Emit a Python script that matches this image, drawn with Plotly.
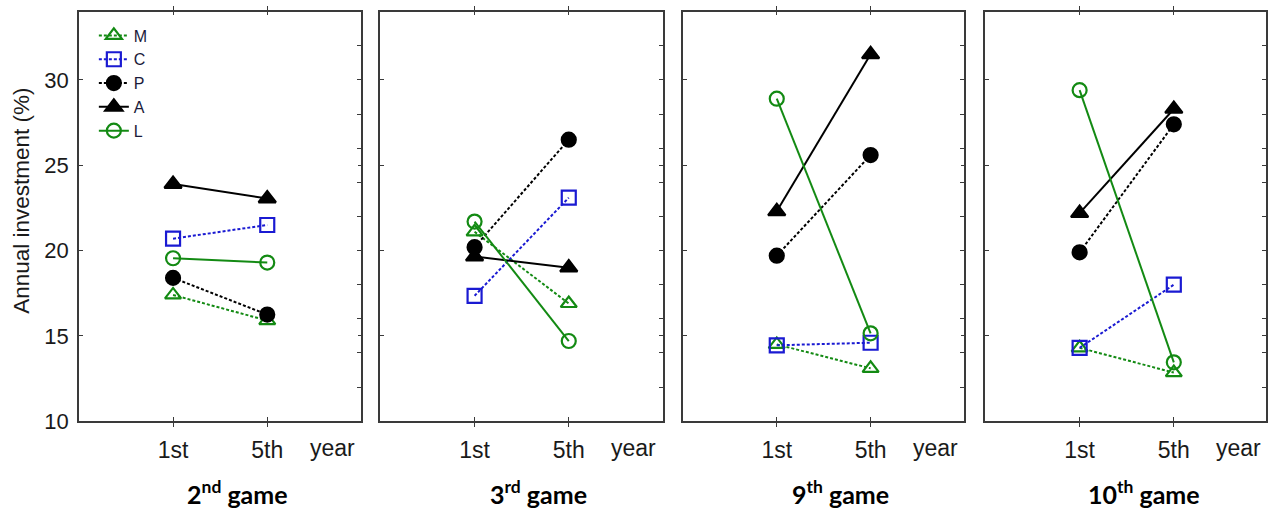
import plotly.graph_objects as go

# ---------------- data ----------------
years = ["1st", "5th"]
games = ["2<sup>nd</sup> game", "3<sup>rd</sup> game", "9<sup>th</sup> game", "10<sup>th</sup> game"]
series_names = ["M", "C", "P", "A", "L"]

M_values = [[17.4, 15.9], [21.1, 16.9], [14.5, 13.1], [14.3, 12.85]]
C_values = [[20.7, 21.5], [17.35, 23.1], [14.45, 14.6], [14.3, 18.0]]
P_values = [[18.4, 16.25], [20.2, 26.5], [19.7, 25.6], [19.9, 27.4]]
A_values = [[23.9, 23.05], [19.65, 19.0], [22.3, 31.5], [22.2, 28.3]]
L_values = [[19.55, 19.3], [21.7, 14.7], [28.9, 15.15], [29.4, 13.45]]

y_ticks = [10, 15, 20, 25, 30]
y_title = "Annual investment (%)"
x_extra_label = "year"

# ---------------- styles ----------------
GREEN = "#138a13"
BLUE = "#1a1ad2"
BLACK = "#000000"
styles = {
    "M": dict(color=GREEN, dash="3px,2px", symbol="triangle-up-open", size=14),
    "C": dict(color=BLUE, dash="3px,2px", symbol="square-open", size=14),
    "P": dict(color=BLACK, dash="3px,2px", symbol="circle", size=14),
    "A": dict(color=BLACK, dash="solid", symbol="triangle-up", size=15),
    "L": dict(color=GREEN, dash="solid", symbol="circle-open", size=14),
}
values = {"M": M_values, "C": C_values, "P": P_values, "A": A_values, "L": L_values}

W, H = 1268, 521
panels_px = [(79, 362), (381, 664), (684, 966), (987, 1270)]
top_px, bottom_px = 12, 432
FONT = "Liberation Sans, Arial, sans-serif"
TITLE_FONT = "Lato, Open Sans, sans-serif"
AXCOL = "#3a3a3a"
TXT = "#1a1a1a"

fig = go.Figure()

for i, game in enumerate(games):
    xa = "x" if i == 0 else f"x{i+1}"
    ya = "y" if i == 0 else f"y{i+1}"
    for name in series_names:
        st = styles[name]
        fig.add_trace(go.Scatter(
            x=years, y=values[name][i], xaxis=xa, yaxis=ya,
            name=name, legendgroup=name, showlegend=(i == 0),
            mode="lines+markers",
            line=dict(color=st["color"], width=2, dash=st["dash"]),
            marker=dict(symbol=st["symbol"], size=st["size"], color=st["color"],
                        line=dict(color=st["color"], width=2.2)),
        ))
    # empty trace to host the right-hand minor tick axis
    fig.add_trace(go.Scatter(x=[], y=[], xaxis=xa, yaxis=f"y{i+5}",
                             showlegend=False, hoverinfo="skip"))

layout = dict(
    width=W, height=H, autosize=False,
    margin=dict(l=0, r=0, t=0, b=0),
    paper_bgcolor="white", plot_bgcolor="white",
    showlegend=True,
    legend=dict(x=94 / W, y=1 - 19 / H, xanchor="left", yanchor="top",
                bgcolor="rgba(0,0,0,0)", font=dict(family=FONT, size=16, color="#1a1a3a"),
                tracegroupgap=0, itemwidth=30),
    annotations=[],
)

ydom = [1 - bottom_px / H, 1 - top_px / H]
for i, (x0, x1) in enumerate(panels_px):
    sx = "" if i == 0 else str(i + 1)
    right = min(x1, W)
    span = 3.0 * (right - x0) / (x1 - x0)
    layout[f"xaxis{sx}"] = dict(
        domain=[x0 / W, right / W], anchor=f"y{sx}", type="category",
        range=[-1, -1 + span], showline=True, linecolor=AXCOL, linewidth=1.5,
        mirror="allticks", ticks="inside", ticklen=4, tickcolor=AXCOL,
        showgrid=False, zeroline=False, ticklabelstandoff=7,
        tickfont=dict(family=FONT, size=23, color=TXT),
        fixedrange=True,
    )
    layout[f"yaxis{sx}"] = dict(
        domain=ydom, anchor=f"x{sx}", range=[10, 34],
        tickvals=y_ticks, showticklabels=(i == 0),
        showline=True, linecolor=AXCOL, linewidth=1.5,
        mirror="allticks", ticks="inside", ticklen=4, tickcolor=AXCOL,
        showgrid=False, zeroline=False, ticklabelstandoff=4,
        tickfont=dict(family=FONT, size=22, color=TXT),
        fixedrange=True,
    )
    layout[f"yaxis{i+5}"] = dict(
        overlaying=f"y{sx}", anchor=f"x{sx}", side="right", range=[10, 34],
        tickmode="linear", tick0=10, dtick=2, ticks="inside", ticklen=4,
        tickcolor=AXCOL, showticklabels=False, showline=False,
        showgrid=False, zeroline=False, fixedrange=True,
    )
    layout["annotations"].append(dict(
        text=x_extra_label, xref=f"x{sx}", yref="paper", x=1.69, y=1 - 459 / H,
        showarrow=False, xanchor="center", yanchor="middle",
        font=dict(family=FONT, size=23, color=TXT),
    ))
    layout["annotations"].append(dict(
        text=f"<b>{games[i]}</b>", xref=f"x{sx}", yref="paper", x=0.68, y=1 - 505 / H,
        showarrow=False, xanchor="center", yanchor="middle",
        font=dict(family=TITLE_FONT, size=25, color="#000000"),
    ))

layout["annotations"].append(dict(
    text=y_title, xref="paper", yref="paper", x=22 / W, y=1 - 206 / H,
    textangle=-90, showarrow=False, xanchor="center", yanchor="middle",
    font=dict(family=FONT, size=22.5, color=TXT),
))

fig.update_layout(**layout)
fig.write_html(
    "out.html",
    config={"displayModeBar": False, "responsive": False},
    post_script="document.body.style.margin='0';document.body.style.overflow='hidden';",
)
